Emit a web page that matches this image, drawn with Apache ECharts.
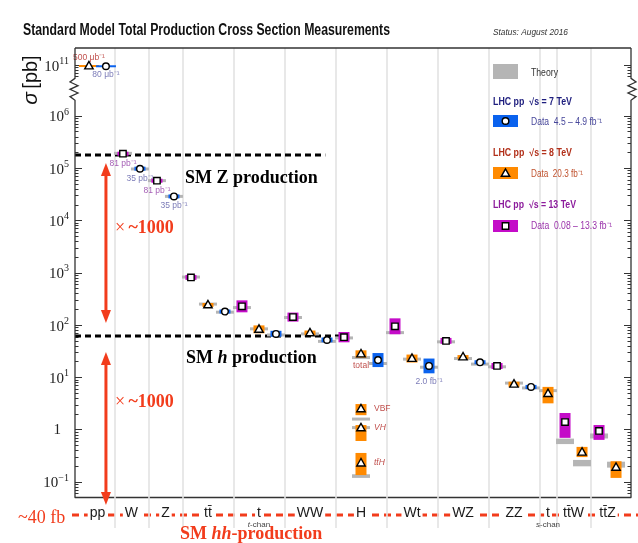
<!DOCTYPE html>
<html><head><meta charset="utf-8">
<script src="https://cdn.jsdelivr.net/npm/echarts@6/dist/echarts.min.js"></script>
<style>html,body{margin:0;padding:0;background:#fff}#c{width:638px;height:543px}</style>
</head><body><div id="c"></div>
<script>
// ---------------- data ----------------
const categories = ['pp','W','Z','tt\u0304','t','WW','H','Wt','WZ','ZZ','t','tt\u0304W','tt\u0304Z'];
const categorySubLabels = ['','','','','t-chan','','','','','','s-chan','',''];
const categoryEnergies = [[8,7],[13,7],[13,7],[13,8,7],[13,8,7],[13,8,7],[13,8,7],[13,8,7],[13,8,7],[13,8,7],[8],[13,8],[13,8]];

const ptCategory = [0,0, 1,1, 2,2, 3,3,3, 4,4,4, 5,5,5, 6,6,6, 7,7,7, 8,8,8, 9,9,9, 10, 11,11, 12,12, 6,6,6];
const ptEnergy   = [8,7, 13,7, 13,7, 13,8,7, 13,8,7, 13,8,7, 13,8,7, 13,8,7, 13,8,7, 13,8,7, 8, 13,8, 13,8, 8,8,8];
const ptSigma = [9.6e10,9.5e10, 1.9e5,9.8e4, 5.8e4,2.9e4, 818,243,182, 229,83,68, 143,71,52, 59,28,21.5, 95,23,16.6, 50,24.5,19.5, 16.6,7.4,6.6, 4.9, 1.4,0.37, 0.95,0.19, 2.5,1.08,0.23];
const ptLow   = [9.4e10,9.3e10, 1.74e5,9.2e4, 5.3e4,2.7e4, 733,223,167, 176,70,60, 117,64,47, 47,24,15.8, 67,19.3,12, 44,22.4,17.9, 14.5,6.6,6.0, 3.2, 0.70,0.30, 0.64,0.12, 1.9,0.61,0.136];
const ptHigh  = [9.8e10,9.7e10, 2.07e5,1.05e5, 6.3e4,3.1e4, 913,265,199, 298,99,78, 174,79,58, 74,33,29.3, 135,27.4,23, 57,26.8,21.3, 18.9,8.3,7.2, 6.6, 2.09,0.47, 1.23,0.25, 3.1,1.23,0.36];
const ptTheory    = [null,null, 1.93e5,9.7e4, 5.8e4,2.9e4, 832,253,177, 217,85,65, 140,68,49, 57,24,18.5, 72,22.4,15.7, 48,23,18, 16,7.8,6.3, 5.6, 0.60,0.23, 0.76,0.215, 1.6,1.1,0.13];
const ptTheoryErr = [null,null, 0.04,0.03, 0.04,0.03, 0.05,0.05,0.05, 0.04,0.04,0.04, 0.05,0.05,0.05, 0.06,0.06,0.06, 0.05,0.05,0.05, 0.04,0.04,0.04, 0.04,0.04,0.04, 0.04, 0.12,0.14, 0.11,0.13, 0.04,0.04,0.08];
const ptNotes = ['500 \u03bcb\u207b\u00b9','80 \u03bcb\u207b\u00b9','81 pb\u207b\u00b9','35 pb\u207b\u00b9','81 pb\u207b\u00b9','35 pb\u207b\u00b9',
  '','','','','','','','','','','total','','','','2.0 fb\u207b\u00b9','','','','','','','','','','','','VBF','VH','tt\u0304H'];

const yMajorExponents = [-1,0,1,2,3,4,5,6,11];
const refZ = 1.8e5;   // SM Z production level (pb)
const refH = 62;      // SM h production level (pb)

// ---------------- style / layout ----------------
const BREAK_SHIFT = 4.027;
const tf = v => { const l = Math.log10(v); return l > 8 ? l - BREAK_SHIFT : l; };
const Y_MIN = -1.286, Y_MAX = 7.30;
const X_MIN = -0.82, X_MAX = 31.88;
const L = 75, R = 631, T = 48, B = 497;
const RED = '#f23c1c';
const energyColor = {7:'#0a62ee', 8:'#ff8a00', 13:'#c40cc8'};
const noteColor = {7:'#7c7cb8', 8:'#c0504d', 13:'#a660b6'};
const notePlace = {0:'above', 32:'right', 33:'right', 34:'right'};
const noteItalic = {33:true, 34:true};

const catStart = []; let acc = 0;
categoryEnergies.forEach(e => { catStart.push(acc); acc += e.length; });
const slotOf = ptCategory.map((c,i) => catStart[c] + categoryEnergies[c].indexOf(ptEnergy[i]));
const catCenters = categories.map((_,c) => catStart[c] + (categoryEnergies[c].length - 1) / 2);
const boundaries = catStart.slice(1).map(s => s - 0.5);

const minorTicks = [];
for (let e = -2; e <= 5; e++) for (let k = 2; k <= 9; k++) {
  const t = e + Math.log10(k); if (t > Y_MIN && t < 6) minorTicks.push(t);
}
for (let k = 6; k <= 9; k++) minorTicks.push(10 + Math.log10(k) - BREAK_SHIFT);
const majorTicks = yMajorExponents.map(e => e > 8 ? e - BREAK_SHIFT : e);

const mctx = document.createElement('canvas').getContext('2d');
function fitScale(text, font, w) { mctx.font = font; return w / mctx.measureText(text).width; }

function yLabel(val) {
  const e = val > 6.5 ? Math.round(val + BREAK_SHIFT) : Math.round(val);
  if (e === 0) return '{one|1}';
  return '{b|10}{s|' + (e < 0 ? '\u2212' + (-e) : e) + '}';
}
const yRich = {
  b: {fontFamily:'Liberation Serif', fontSize:15, color:'#222', lineHeight:18, verticalAlign:'bottom'},
  s: {fontFamily:'Liberation Serif', fontSize:10, color:'#222', lineHeight:10, verticalAlign:'top'},
  one: {fontFamily:'Liberation Serif', fontSize:15, color:'#222', lineHeight:18, padding:[0,8,0,0]}
};

function xLabel(v) {
  const c = catCenters.findIndex(cc => Math.abs(cc - v) < 1e-6);
  if (c < 0) return '';
  const s = categorySubLabels[c];
  let t = '{m|' + categories[c] + '}';
  if (s) t += '\n{subi|' + s[0] + '}{sub|' + s.slice(1) + '}';
  return t;
}

function marker(E, x, y) {
  const st = {fill:'#fff', stroke:'#000', lineWidth:1.4};
  if (E === 7) return {type:'circle', shape:{cx:x, cy:y, r:3.3}, style:st};
  if (E === 8) return {type:'polygon', shape:{points:[[x,y-4.6],[x-4.2,y+2.8],[x+4.2,y+2.8]]}, style:st};
  return {type:'rect', shape:{x:x-3.2, y:y-3.2, width:6.4, height:6.4}, style:st};
}

function renderItem(params, api) {
  const i = params.dataIndex;
  const x = slotOf[i];
  const E = ptEnergy[i];
  const p = api.coord([x, tf(ptSigma[i])]);
  const yHi = api.coord([x, tf(ptHigh[i])])[1];
  const yLo = api.coord([x, tf(ptLow[i])])[1];
  const ch = [];
  if (ptTheory[i] != null) {
    const th = ptTheory[i], er = ptTheoryErr[i];
    const cy = api.coord([x, tf(th)])[1];
    const a = api.coord([x, tf(th * (1 + er))])[1], b = api.coord([x, tf(th * (1 - er))])[1];
    const h = Math.max(3, b - a);
    ch.push({type:'rect', shape:{x:p[0]-9, y:cy-h/2, width:18, height:h}, style:{fill:'#b5b5b5'}});
    const dh = Math.max(4, yLo - yHi);
    const dc = (yLo + yHi) / 2;
    ch.push({type:'rect', shape:{x:p[0]-5.5, y:dc-dh/2, width:11, height:dh}, style:{fill:energyColor[E]}});
  } else {
    ch.push({type:'rect', shape:{x:p[0]-10, y:p[1]-1, width:20, height:2}, style:{fill:energyColor[E]}});
  }
  ch.push(marker(E, p[0], p[1]));
  const note = ptNotes[i];
  if (note) {
    const place = notePlace[i] || 'below';
    const st = {text:note, fill:noteColor[E], fontSize:8.5, fontFamily:'Liberation Sans',
      fontStyle: noteItalic[i] ? 'italic' : 'normal', verticalAlign:'middle', align:'center'};
    if (place === 'above') { st.x = p[0]; st.y = p[1] - 8; }
    else if (place === 'right') { st.x = p[0] + 13; st.y = p[1]; st.align = 'left'; }
    else { st.x = p[0]; st.y = Math.max(p[1] + 7, yLo + 8); }
    ch.push({type:'text', style:st});
  }
  return {type:'group', children:ch};
}

const chart = echarts.init(document.getElementById('c'));
const axisY = (pos, ticks, len, labels) => ({
  type:'value', min:Y_MIN, max:Y_MAX, position:pos,
  axisLine:{show:false, onZero:false}, splitLine:{show:false},
  axisTick:{show:true, inside:true, length:len, customValues:ticks, lineStyle:{color:'#333', width:1}},
  axisLabel: labels ? {show:true, customValues:ticks, formatter:yLabel, rich:yRich, margin:6}
                    : {show:false, customValues:ticks}
});

chart.setOption({
  animation:false,
  backgroundColor:'#fff',
  grid:{left:L, right:638-R, top:T, bottom:543-B},
  xAxis:[
    {type:'value', min:X_MIN, max:X_MAX, position:'bottom',
     axisLine:{show:false, onZero:false}, splitLine:{show:false},
     axisTick:{show:true, inside:true, length:B-T, customValues:boundaries, lineStyle:{color:'#e3e3e3', width:1.6}},
     axisLabel:{show:true, customValues:catCenters, formatter:xLabel, margin:9,
       rich:{
         m:{fontFamily:'Liberation Sans', fontSize:14, color:'#1a1a1a', backgroundColor:'#fff', padding:[0,2], lineHeight:14},
         sub:{fontFamily:'Liberation Sans', fontSize:8, color:'#444', lineHeight:9},
         subi:{fontFamily:'Liberation Sans', fontSize:8, color:'#444', lineHeight:9, fontStyle:'italic'}
       }}},
    {type:'value', min:X_MIN, max:X_MAX, position:'bottom',
     axisLine:{show:true, onZero:false, lineStyle:{color:'#333', width:1.3}}, splitLine:{show:false},
     axisTick:{show:true, inside:false, length:31, customValues:boundaries, lineStyle:{color:'#e3e3e3', width:1.6}},
     axisLabel:{show:false, customValues:boundaries}}
  ],
  yAxis:[
    axisY('left', majorTicks, 7, true),
    axisY('left', minorTicks, 3.5, false),
    axisY('right', majorTicks, 7, false),
    axisY('right', minorTicks, 3.5, false)
  ],
  series:[
    {type:'line', silent:true, symbol:'none', z:2, xAxisIndex:0, yAxisIndex:0,
     data:[[X_MIN, tf(refZ)], [13.9, tf(refZ)]], lineStyle:{color:'#000', width:3, type:[6,4]}},
    {type:'line', silent:true, symbol:'none', z:2, xAxisIndex:0, yAxisIndex:0,
     data:[[X_MIN, tf(refH)], [15.3, tf(refH)]], lineStyle:{color:'#000', width:3, type:[6,4]}},
    {type:'custom', silent:true, z:4, xAxisIndex:0, yAxisIndex:0, clip:false,
     data: ptSigma.map((v,i) => [slotOf[i], tf(v)]),
     renderItem}
  ]
});

// ---------------- decorations ----------------
const px = (x, y) => chart.convertToPixel({xAxisIndex:0, yAxisIndex:0}, [x, y]);
const zTop = px(0, 6.72)[1], zBot = px(0, 6.30)[1];
function frame(x, a, b) {
  const n = 6, pts = [[x, T], [x, zTop]];
  for (let k = 1; k < n; k++) pts.push([x + (k % 2 ? a : b), zTop + (zBot - zTop) * k / n]);
  pts.push([x, zBot], [x, B]);
  return {type:'polyline', z:10, shape:{points:pts}, style:{stroke:'#333', lineWidth:1.3, fill:null}};
}
const zY = px(0, tf(refZ))[1], hY = px(0, tf(refH))[1];
const ax = px(1, 0)[0];
function arrow(y1, y2) {
  return [
    {type:'line', z:10, shape:{x1:ax, y1:y1+10, x2:ax, y2:y2-10}, style:{stroke:RED, lineWidth:3}},
    {type:'polygon', z:10, shape:{points:[[ax,y1],[ax-5,y1+13],[ax+5,y1+13]]}, style:{fill:RED}},
    {type:'polygon', z:10, shape:{points:[[ax,y2],[ax-5,y2-13],[ax+5,y2-13]]}, style:{fill:RED}}
  ];
}
function txt(x, y, text, o) {
  return Object.assign({type:'text', z:10, x, y, style:Object.assign({text, verticalAlign:'middle'}, o.style || {})},
    o.el || {});
}
function fitTxt(x, y, text, font, w, style) {
  const s = fitScale(text, font, w);
  return {type:'text', z:10, x, y, scaleX:s, style:Object.assign({text, font, verticalAlign:'middle'}, style)};
}
const serif = 'Liberation Serif';
const el = [
  frame(L, -5, 3), frame(R, 5, -3),
  {type:'line', z:10, shape:{x1:L, y1:T, x2:R, y2:T}, style:{stroke:'#333', lineWidth:1.3}},
  {type:'line', z:-5, shape:{x1:72, y1:515, x2:638, y2:515}, style:{stroke:RED, lineWidth:3, lineDash:[7,5]}},
  ...arrow(zY + 8, hY - 13),
  ...arrow(hY + 16, B + 8),
  fitTxt(23, 31, 'Standard Model Total Production Cross Section Measurements', 'bold 16px "Liberation Sans"', 367, {fill:'#111'}),
  fitTxt(493, 32, 'Status: August 2016', 'italic 9px "Liberation Sans"', 75, {fill:'#333'}),
  {type:'text', z:10, x:31, y:80, rotation:Math.PI/2,
   style:{text:'{i|\u03c3} {n|[pb]}', align:'center', verticalAlign:'middle',
     rich:{i:{fontFamily:'Liberation Sans', fontSize:21, fontStyle:'italic', fill:'#111'}, n:{fontFamily:'Liberation Sans', fontSize:20, fill:'#111'}}}},
  txt(185, 178, 'SM Z production', {style:{fontFamily:serif, fontWeight:'bold', fontSize:18, fill:'#000'}}),
  {type:'text', z:10, x:186, y:358, style:{text:'{b|SM }{bi|h}{b| production}', verticalAlign:'middle',
     rich:{b:{fontFamily:serif, fontWeight:'bold', fontSize:18, fill:'#000'}, bi:{fontFamily:serif, fontWeight:'bold', fontStyle:'italic', fontSize:18, fill:'#000'}}}},
  {type:'text', z:10, x:115, y:228, style:{text:'{x|\u00d7} {b|~1000}', verticalAlign:'middle',
     rich:{x:{fontFamily:serif, fontSize:18, fill:RED}, b:{fontFamily:serif, fontWeight:'bold', fontSize:18, fill:RED}}}},
  {type:'text', z:10, x:115, y:402, style:{text:'{x|\u00d7} {b|~1000}', verticalAlign:'middle',
     rich:{x:{fontFamily:serif, fontSize:18, fill:RED}, b:{fontFamily:serif, fontWeight:'bold', fontSize:18, fill:RED}}}},
  txt(18, 518, '~40 fb', {style:{fontFamily:serif, fontSize:18, fill:RED}}),
  {type:'text', z:10, x:180, y:534, style:{text:'{b|SM }{bi|hh}{b|-production}', verticalAlign:'middle',
     rich:{b:{fontFamily:serif, fontWeight:'bold', fontSize:18, fill:RED}, bi:{fontFamily:serif, fontWeight:'bold', fontStyle:'italic', fontSize:18, fill:RED}}}},
  // legend
  {type:'rect', z:10, shape:{x:493, y:64, width:25, height:15}, style:{fill:'#b5b5b5'}},
  fitTxt(531, 73, 'Theory', '10px "Liberation Sans"', 27, {fill:'#333'}),
  fitTxt(493, 102, 'LHC pp  \u221as = 7 TeV', 'bold 10px "Liberation Sans"', 79, {fill:'#1e1e7e'}),
  {type:'rect', z:10, shape:{x:493, y:115, width:25, height:12}, style:{fill:energyColor[7]}},
  Object.assign(marker(7, 505.5, 121), {z:11}),
  fitTxt(531, 122, 'Data  4.5 \u2013 4.9 fb\u207b\u00b9', '10px "Liberation Sans"', 71, {fill:'#46469a'}),
  fitTxt(493, 153, 'LHC pp  \u221as = 8 TeV', 'bold 10px "Liberation Sans"', 79, {fill:'#b2301a'}),
  {type:'rect', z:10, shape:{x:493, y:167, width:25, height:12}, style:{fill:energyColor[8]}},
  Object.assign(marker(8, 505.5, 173.5), {z:11}),
  fitTxt(531, 174, 'Data  20.3 fb\u207b\u00b9', '10px "Liberation Sans"', 52, {fill:'#c0522e'}),
  fitTxt(493, 205, 'LHC pp  \u221as = 13 TeV', 'bold 10px "Liberation Sans"', 83, {fill:'#8c1c9c'}),
  {type:'rect', z:10, shape:{x:493, y:220, width:25, height:12}, style:{fill:energyColor[13]}},
  Object.assign(marker(13, 505.5, 226), {z:11}),
  fitTxt(531, 226, 'Data  0.08 \u2013 13.3 fb\u207b\u00b9', '10px "Liberation Sans"', 81, {fill:'#9a32aa'})
];
chart.setOption({graphic:{elements:el}});
</script></body></html>
